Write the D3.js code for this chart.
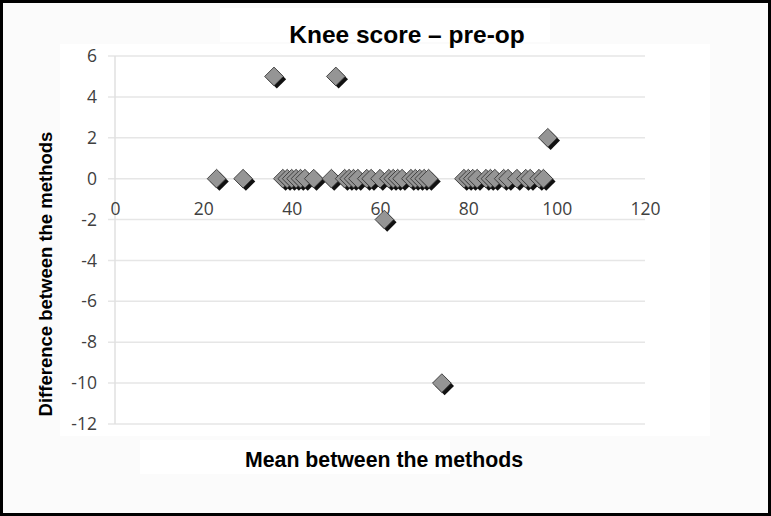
<!DOCTYPE html>
<html>
<head>
<meta charset="utf-8">
<script src="https://cdn.jsdelivr.net/npm/d3@7"></script>
<style>
  html, body { margin: 0; padding: 0; background: #ffffff; }
  svg { display: block; }
</style>
</head>
<body>
<div id="chart"></div>
<script>
// ---- Data ----
const chartTitle = "Knee score \u2013 pre-op";
const xAxisTitle = "Mean between the methods";
const yAxisTitle = "Difference between the methods";
const xTicks = [0, 20, 40, 60, 80, 100, 120];
const yTicks = [6, 4, 2, 0, -2, -4, -6, -8, -10, -12];
// Mean between the methods (x) and difference between the methods (y)
const meanValues = [23, 29, 38, 39, 40, 41, 42, 43, 45, 49, 52, 53, 54, 55, 57, 58, 60, 62, 63, 64, 65, 67, 68, 69, 70, 71,
                    79, 80, 81, 82, 84, 85, 86, 88, 89, 91, 93, 94, 96, 97,
                    36, 50, 98, 61, 74];
const diffValues = [0, 0, 0, 0, 0, 0, 0, 0, 0, 0, 0, 0, 0, 0, 0, 0, 0, 0, 0, 0, 0, 0, 0, 0, 0, 0,
                    0, 0, 0, 0, 0, 0, 0, 0, 0, 0, 0, 0, 0, 0,
                    5, 5, 2, -2, -10];

const W = 771, H = 516;
const svg = d3.select("#chart").append("svg").attr("width", W).attr("height", H);
const fmt = d => String(d);

// background + frame
svg.append("rect").attr("x", 0).attr("y", 0).attr("width", W).attr("height", H).attr("fill", "#fbfbfb");
svg.append("rect").attr("x", 60).attr("y", 44).attr("width", 650).attr("height", 392).attr("fill", "#ffffff");
svg.append("rect").attr("x", 220).attr("y", 8).attr("width", 330).attr("height", 34).attr("fill", "#ffffff");
svg.append("rect").attr("x", 140).attr("y", 440).attr("width", 310).attr("height", 34).attr("fill", "#ffffff");

const x = d3.scaleLinear().domain([0, 120]).range([115, 645]);
const y = d3.scaleLinear().domain([-12, 6]).range([424, 56]);

// horizontal gridlines with left tick stubs
svg.append("g").selectAll("line").data(yTicks).join("line")
  .attr("x1", 108).attr("x2", x(120))
  .attr("y1", d => y(d)).attr("y2", d => y(d))
  .attr("stroke", "#e6e6e6").attr("stroke-width", 1.5);

// vertical axis line
svg.append("line").attr("x1", x(0)).attr("x2", x(0)).attr("y1", y(6)).attr("y2", y(-12))
  .attr("stroke", "#e0e0e0").attr("stroke-width", 1.5);

// y tick labels
const gYAxis = svg.append("g").attr("transform", `translate(${x(0)},0)`)
  .call(d3.axisLeft(y).tickValues(yTicks).tickSize(0).tickPadding(18).tickFormat(fmt));
gYAxis.select(".domain").remove();
gYAxis.selectAll("text")
  .attr("font-family", "'Open Sans', sans-serif").attr("font-size", 17.5).attr("fill", "#404040");

// x tick labels (along y = 0)
const gXAxis = svg.append("g").attr("transform", `translate(0,${y(0)})`)
  .call(d3.axisBottom(x).tickValues(xTicks).tickSize(0).tickPadding(24).tickFormat(fmt));
gXAxis.select(".domain").remove();
gXAxis.selectAll("text")
  .attr("font-family", "'Open Sans', sans-serif").attr("font-size", 17.5).attr("fill", "#404040");

// points: rotated squares (diamonds) with dark drop shadow
const points = meanValues.map((m, i) => ({ m, d: diffValues[i] }));
const diamond = d3.symbol().type(d3.symbolSquare).size(175)();
const gp = svg.append("g");
points.forEach(p => {
  const cx = x(p.m), cy = y(p.d);
  gp.append("path").attr("d", diamond)
    .attr("transform", `translate(${cx + 2.8},${cy + 2.8}) rotate(45)`)
    .attr("fill", "#111");
  gp.append("path").attr("d", diamond)
    .attr("transform", `translate(${cx},${cy}) rotate(45)`)
    .attr("fill", "#959595").attr("stroke", "#333").attr("stroke-width", 0.8);
});

// titles
svg.append("text").attr("x", 407).attr("y", 43).attr("text-anchor", "middle")
  .attr("font-family", "'Liberation Sans', Arial, sans-serif").attr("font-weight", "bold")
  .attr("font-size", 24.5).attr("fill", "#000").text(chartTitle);

svg.append("text").attr("x", 384).attr("y", 467).attr("text-anchor", "middle")
  .attr("font-family", "'Liberation Sans', Arial, sans-serif").attr("font-weight", "bold")
  .attr("font-size", 21.3).attr("fill", "#000").text(xAxisTitle);

svg.append("text").attr("transform", "translate(52,274) rotate(-90)").attr("text-anchor", "middle")
  .attr("font-family", "'Liberation Sans', Arial, sans-serif").attr("font-weight", "bold")
  .attr("font-size", 18.5).attr("fill", "#000").text(yAxisTitle);

// outer frame
svg.append("rect").attr("x", 1.5).attr("y", 1.5).attr("width", W - 3).attr("height", H - 3)
  .attr("fill", "none").attr("stroke", "#000").attr("stroke-width", 3);
</script>
</body>
</html>
